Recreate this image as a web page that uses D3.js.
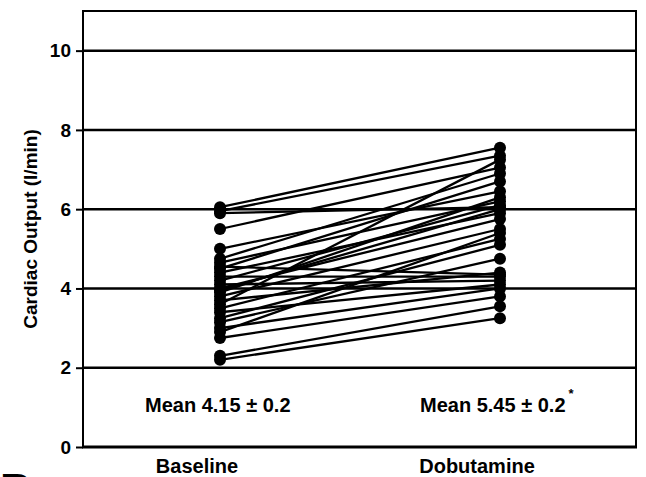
<!DOCTYPE html>
<html>
<head>
<meta charset="utf-8">
<script src="https://cdn.jsdelivr.net/npm/d3@7"></script>
<style>
  body { margin: 0; background: #fff; }
  svg text { font-family: "Liberation Sans", Arial, sans-serif; font-weight: bold; fill: #000; }
</style>
</head>
<body>
<div id="chart"></div>
<script>
// Conditions on the x axis
const conditions = ["Baseline", "Dobutamine"];

// Cardiac output per subject (l/min)
const baseline   = [6.05, 5.95, 5.9, 5.5, 5.0, 4.75, 4.65, 4.55, 4.5, 4.4, 4.3, 4.2, 4.1, 4.0,
                    3.9, 3.8, 3.7, 3.6, 3.5, 3.4, 3.25, 3.15, 3.0, 2.9, 2.75, 2.3, 2.2, 3.95];
const dobutamine = [7.55, 7.35, 6.05, 7.05, 6.45, 6.9, 6.2, 4.35, 6.7, 5.9, 4.3, 6.1, 4.2, 5.75,
                    6.3, 5.5, 4.4, 7.25, 5.25, 4.1, 5.1, 4.75, 4.0, 5.4, 3.8, 3.55, 3.25, 6.0];

const yTicks = [0, 2, 4, 6, 8, 10];
const meanLabels = ["Mean 4.15 \u00b1 0.2", "Mean 5.45 \u00b1 0.2"];

const width = 646, height = 477;
const margin = { top: 11, right: 10, bottom: 30, left: 83 };

const svg = d3.select("#chart").append("svg")
    .attr("width", width)
    .attr("height", height);

const x = d3.scalePoint()
    .domain(conditions)
    .range([220, 500]);

const y = d3.scaleLinear()
    .domain([0, 11])
    .range([height - margin.bottom, margin.top]);

const left = margin.left, right = width - margin.right;

// gridlines
svg.selectAll(".grid")
    .data(yTicks.filter(d => d > 0))
    .join("line")
    .attr("x1", left).attr("x2", right)
    .attr("y1", d => y(d)).attr("y2", d => y(d))
    .attr("stroke", "#000")
    .attr("stroke-width", 2.5);

// frame
svg.append("rect")
    .attr("x", left).attr("y", y(11))
    .attr("width", right - left).attr("height", y(0) - y(11))
    .attr("fill", "none")
    .attr("stroke", "#000")
    .attr("stroke-width", 2);
svg.append("line")
    .attr("x1", left - 1).attr("x2", right + 1)
    .attr("y1", y(0)).attr("y2", y(0))
    .attr("stroke", "#000").attr("stroke-width", 3);

// y axis
const yAxis = svg.append("g")
    .attr("transform", `translate(${left},0)`)
    .call(d3.axisLeft(y).tickValues(yTicks).tickSize(7).tickPadding(5));
yAxis.select(".domain").remove();
yAxis.selectAll("line").attr("stroke", "#000").attr("stroke-width", 2);
yAxis.selectAll("text")
    .style("font-size", "19px")
    .style("font-family", "Liberation Sans, Arial, sans-serif")
    .style("font-weight", "bold");

svg.append("text")
    .attr("transform", `translate(37,${y(5.5)}) rotate(-90)`)
    .attr("text-anchor", "middle")
    .style("font-size", "19px")
    .text("Cardiac Output (l/min)");

// category labels
svg.selectAll(".cat")
    .data(conditions)
    .join("text")
    .attr("x", d => x(d) - 23)
    .attr("y", 473)
    .attr("text-anchor", "middle")
    .style("font-size", "20px")
    .text(d => d);

// subject lines
const pairs = baseline.map((b, i) => [b, dobutamine[i]]);
svg.selectAll(".pair")
    .data(pairs)
    .join("line")
    .attr("x1", x(conditions[0])).attr("x2", x(conditions[1]))
    .attr("y1", d => y(d[0])).attr("y2", d => y(d[1]))
    .attr("stroke", "#000")
    .attr("stroke-width", 2.3);

// dots
conditions.forEach((c, ci) => {
    svg.selectAll(".dot" + ci)
        .data(ci === 0 ? baseline : dobutamine)
        .join("circle")
        .attr("cx", x(c))
        .attr("cy", d => y(d))
        .attr("r", 6)
        .attr("fill", "#000");
});

// mean labels
svg.selectAll(".mean")
    .data(meanLabels)
    .join("text")
    .attr("x", (d, i) => i === 0 ? 145 : 420)
    .attr("y", 412)
    .style("font-size", "20px")
    .text(d => d)
    .filter((d, i) => i === 1)
    .append("tspan")
    .attr("dx", 3)
    .attr("dy", -14)
    .style("font-size", "13px")
    .text("*");

// panel letter, cut off at bottom as in the source figure
svg.append("text")
    .attr("x", 0).attr("y", 505)
    .style("font-size", "44px")
    .text("B");
</script>
</body>
</html>
